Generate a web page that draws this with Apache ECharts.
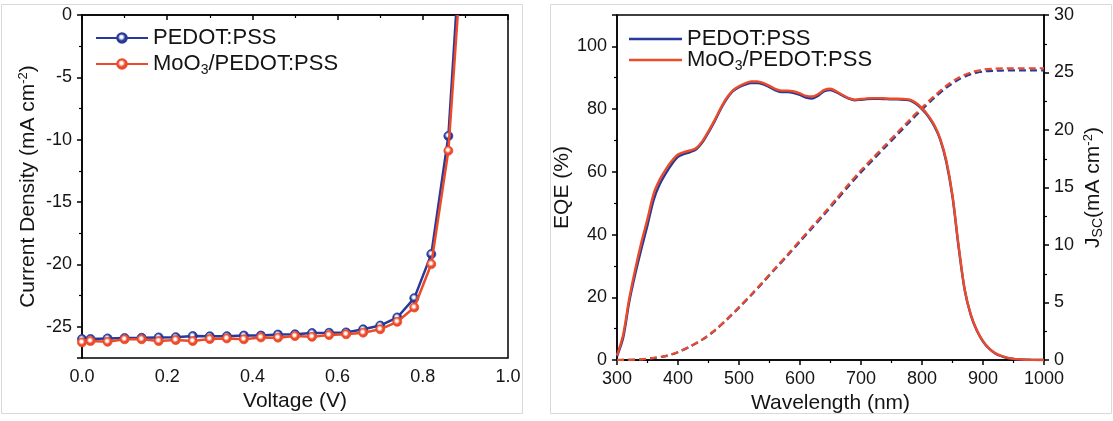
<!DOCTYPE html>
<html><head><meta charset="utf-8">
<script src="https://cdn.jsdelivr.net/npm/echarts@6/dist/echarts.min.js"></script>
<style>html,body{margin:0;padding:0;background:#fff}#c{width:1113px;height:421px}</style>
</head><body><div id="c"></div>
<script>
// ---- J-V data ----
const voltage = [0, 0.02, 0.06, 0.10, 0.14, 0.18, 0.22, 0.26, 0.30, 0.34, 0.38, 0.42, 0.46, 0.50, 0.54, 0.58, 0.62, 0.66, 0.70, 0.74, 0.78, 0.82, 0.86];
const jPedot = [-25.98, -25.98, -25.93, -25.90, -25.88, -25.85, -25.83, -25.74, -25.76, -25.75, -25.70, -25.70, -25.62, -25.60, -25.50, -25.48, -25.45, -25.20, -24.90, -24.25, -22.70, -19.17, -9.70];
const jMoO3 = [-26.25, -26.14, -26.20, -26.00, -26.00, -26.14, -26.06, -26.14, -25.98, -25.93, -26.00, -25.85, -25.87, -25.74, -25.80, -25.66, -25.60, -25.47, -25.20, -24.60, -23.45, -19.97, -10.88];
const vocPedot = 0.878;
const vocMoO3 = 0.882;

// ---- EQE data ----
const wavelength = [300,310,320,330,340,350,360,370,380,390,400,410,420,430,440,450,460,470,480,490,500,510,520,530,540,550,560,570,580,590,600,610,620,630,640,650,660,670,680,690,700,710,720,730,740,750,760,770,780,790,800,810,820,830,840,850,860,870,880,890,900,910,920,930,940,950,960,970,980,990,1000];
const eqePedot = [1.2,7,18.5,27.5,35.5,43,51,56,59.5,62.5,64.8,65.7,66.3,67.2,69.4,72.6,76.1,80,83.3,85.7,87,87.8,88.3,88.3,87.9,87,86,85.4,85.4,85.1,84.5,83.7,83.4,84.3,85.7,86.1,85.3,84.3,83.3,82.8,83,83.2,83.3,83.3,83.2,83.1,83.1,83,82.8,81.7,80,77.7,74.6,70.2,63,52,36,22.3,14.3,9.3,5.9,3.6,2.1,1.2,0.65,0.32,0.18,0.1,0.05,0.02,0];
const eqeMoO3 = [1.5,8,19.5,29,37.5,45,53,57.5,60.8,63.5,65.5,66.3,66.8,67.6,69.8,73,76.5,80.3,83.6,86,87.3,88.2,88.8,88.8,88.3,87.4,86.4,85.9,85.9,85.6,85,84.2,84,84.8,86.1,86.5,85.6,84.5,83.5,83,83.2,83.4,83.5,83.5,83.4,83.3,83.3,83.2,83,82,80.3,78,75,70.5,63.5,52.5,36.5,22.5,14.5,9.5,6,3.7,2.2,1.3,0.7,0.35,0.2,0.1,0.05,0.02,0];

// ---- integrated Jsc data ----
const jscWavelength = [300,320,340,360,380,400,420,440,460,480,500,520,540,560,580,600,620,640,660,680,700,720,740,760,780,800,820,840,860,880,900,920,940,960,980,1000];
const jscPedot = [0,0.01,0.05,0.17,0.34,0.68,1.17,1.77,2.54,3.5,4.55,5.64,6.78,7.95,9.1,10.3,11.48,12.67,13.9,15.13,16.32,17.42,18.52,19.62,20.72,21.78,22.78,23.68,24.38,24.85,25.08,25.15,25.18,25.19,25.19,25.19];
const jscMoO3 = [0,0.01,0.06,0.18,0.36,0.7,1.2,1.8,2.58,3.55,4.6,5.7,6.85,8.03,9.2,10.4,11.6,12.8,14.05,15.3,16.5,17.6,18.7,19.8,20.9,21.95,22.95,23.85,24.55,25,25.25,25.33,25.36,25.37,25.37,25.37];

const nameA = 'PEDOT:PSS';
const nameB = 'MoO3/PEDOT:PSS';
const BLUE = '#27399a';
const RED = '#ec4b2a';
const FONT = '"Liberation Sans", Arial, sans-serif';
const TXT = '#141414';

function ball(c) {
  return new echarts.graphic.RadialGradient(0.45, 0.42, 0.6, [
    {offset: 0, color: '#ffffff'},
    {offset: 0.18, color: '#ffffff'},
    {offset: 0.55, color: c},
    {offset: 1, color: c}
  ]);
}

function pairs(xs, ys) { return xs.map((x, i) => [x, ys[i]]); }

const axisLine = {lineStyle: {color: '#000', width: 1.5}};
const axisTick = {show: true, inside: false, length: 5, lineStyle: {color: '#000', width: 1.5}};
const minorTick = {show: true, splitNumber: 2, length: 3, lineStyle: {color: '#000', width: 1.2}};
const lbl = {fontSize: 18, color: TXT, fontFamily: FONT};
const nameStyle = {
  fontSize: 21, color: TXT, fontFamily: FONT,
  rich: {
    n: {fontSize: 21, color: TXT, fontFamily: FONT},
    sup: {fontSize: 13, color: TXT, fontFamily: FONT, verticalAlign: 'top', padding: [0, 0, 10, 0]},
    sub: {fontSize: 14, color: TXT, fontFamily: FONT, verticalAlign: 'bottom', padding: [8, 0, 0, 0]}
  }
};
const legendRich = {
  n: {fontSize: 22, color: TXT, fontFamily: FONT, lineHeight: 26},
  s: {fontSize: 14, color: TXT, fontFamily: FONT, verticalAlign: 'bottom', padding: [9, 0, 0, 0], lineHeight: 26}
};
function legendFmt(name) {
  return name === nameB ? '{n|MoO}{s|3}{n|/PEDOT:PSS}' : '{n|' + name + '}';
}

const chart = echarts.init(document.getElementById('c'), null, {renderer: 'canvas'});
chart.setOption({
  animation: false,
  backgroundColor: '#fff',
  graphic: [
    {type: 'rect', shape: {x: 1.5, y: 4.5, width: 521, height: 409}, style: {fill: 'none', stroke: '#d9d9d9', lineWidth: 1}, z: -1},
    {type: 'rect', shape: {x: 550.5, y: 4.5, width: 561, height: 409}, style: {fill: 'none', stroke: '#d9d9d9', lineWidth: 1}, z: -1}
  ],
  grid: [
    {left: 82, top: 15, width: 426, height: 343, show: true, borderColor: '#000', borderWidth: 1.5, backgroundColor: 'transparent', containLabel: false},
    {left: 617, top: 15, width: 427, height: 345, show: true, borderColor: '#000', borderWidth: 1.5, backgroundColor: 'transparent', containLabel: false}
  ],
  legend: [
    {
      data: [nameA, nameB], orient: 'vertical', left: 90, top: 22,
      itemWidth: 52, itemHeight: 12, itemGap: 4,
      formatter: legendFmt, textStyle: {rich: legendRich}
    },
    {
      data: [
        {name: nameA, icon: 'rect', itemStyle: {color: BLUE, borderWidth: 0}},
        {name: nameB, icon: 'rect', itemStyle: {color: RED, borderWidth: 0}}
      ],
      orient: 'vertical', left: 624, top: 23,
      itemWidth: 53, itemHeight: 2.5, itemGap: -1,
      itemStyle: {borderWidth: 0},
      lineStyle: {width: 0},
      formatter: legendFmt, textStyle: {rich: legendRich}
    }
  ],
  xAxis: [
    {
      gridIndex: 0, type: 'value', min: 0, max: 1, interval: 0.2,
      axisLine, axisTick, minorTick, splitLine: {show: false},
      axisLabel: Object.assign({margin: 10, formatter: v => v.toFixed(1)}, lbl),
      name: 'Voltage (V)', nameLocation: 'middle', nameGap: 30, nameTextStyle: nameStyle
    },
    {
      gridIndex: 1, type: 'value', min: 300, max: 1000, interval: 100,
      axisLine, axisTick, minorTick, splitLine: {show: false},
      axisLabel: Object.assign({margin: 10, formatter: v => String(v)}, lbl),
      name: 'Wavelength (nm)', nameLocation: 'middle', nameGap: 30, nameTextStyle: nameStyle
    }
  ],
  yAxis: [
    {
      gridIndex: 0, type: 'value', min: -27.5, max: 0, splitNumber: 6,
      axisLine, axisTick, minorTick, splitLine: {show: false},
      axisLabel: Object.assign({margin: 10, showMinLabel: false}, lbl),
      name: '{n|Current Density (mA cm}{sup|-2}{n|)}', nameLocation: 'middle', nameGap: 42, nameTextStyle: nameStyle
    },
    {
      gridIndex: 1, type: 'value', min: 0, max: 110, interval: 20,
      axisLine, axisTick, minorTick, splitLine: {show: false},
      axisLabel: Object.assign({margin: 10, showMaxLabel: false}, lbl),
      name: 'EQE (%)', nameLocation: 'middle', nameGap: 39, nameTextStyle: nameStyle
    },
    {
      gridIndex: 1, type: 'value', position: 'right', min: 0, max: 30, interval: 5,
      axisLine, axisTick, minorTick, splitLine: {show: false},
      axisLabel: Object.assign({margin: 10}, lbl),
      name: '{n|J}{sub|SC}{n|(mA cm}{sup|-2}{n|)}', nameLocation: 'middle', nameGap: 38, nameRotate: 90, nameTextStyle: nameStyle
    }
  ],
  series: [
    {
      name: nameA, type: 'line', xAxisIndex: 0, yAxisIndex: 0,
      data: pairs(voltage, jPedot).concat([{value: [vocPedot, 0], symbol: 'none'}]),
      symbol: 'circle', symbolSize: 9, showAllSymbol: true,
      itemStyle: {color: ball(BLUE), borderColor: BLUE, borderWidth: 0.8},
      lineStyle: {color: BLUE, width: 2.5}, z: 3
    },
    {
      name: nameB, type: 'line', xAxisIndex: 0, yAxisIndex: 0,
      data: pairs(voltage, jMoO3).concat([{value: [vocMoO3, 0], symbol: 'none'}]),
      symbol: 'circle', symbolSize: 9, showAllSymbol: true,
      itemStyle: {color: ball(RED), borderColor: RED, borderWidth: 0.8},
      lineStyle: {color: RED, width: 2.5}, z: 4
    },
    {
      name: nameA, type: 'line', xAxisIndex: 1, yAxisIndex: 1,
      data: pairs(wavelength, eqePedot), showSymbol: false, smooth: 0.3,
      itemStyle: {color: BLUE}, lineStyle: {color: BLUE, width: 2.4}, z: 3
    },
    {
      name: nameB, type: 'line', xAxisIndex: 1, yAxisIndex: 1,
      data: pairs(wavelength, eqeMoO3), showSymbol: false, smooth: 0.3,
      itemStyle: {color: RED}, lineStyle: {color: RED, width: 2.4}, z: 4
    },
    {
      name: 'Jsc ' + nameA, type: 'line', xAxisIndex: 1, yAxisIndex: 2,
      data: pairs(jscWavelength, jscPedot), showSymbol: false, smooth: 0.3,
      lineStyle: {color: BLUE, width: 2.2, type: [7, 4]}, z: 3
    },
    {
      name: 'Jsc ' + nameB, type: 'line', xAxisIndex: 1, yAxisIndex: 2,
      data: pairs(jscWavelength, jscMoO3), showSymbol: false, smooth: 0.3,
      lineStyle: {color: RED, width: 2.2, type: [7, 4]}, z: 4
    }
  ]
});
</script>
</body></html>
